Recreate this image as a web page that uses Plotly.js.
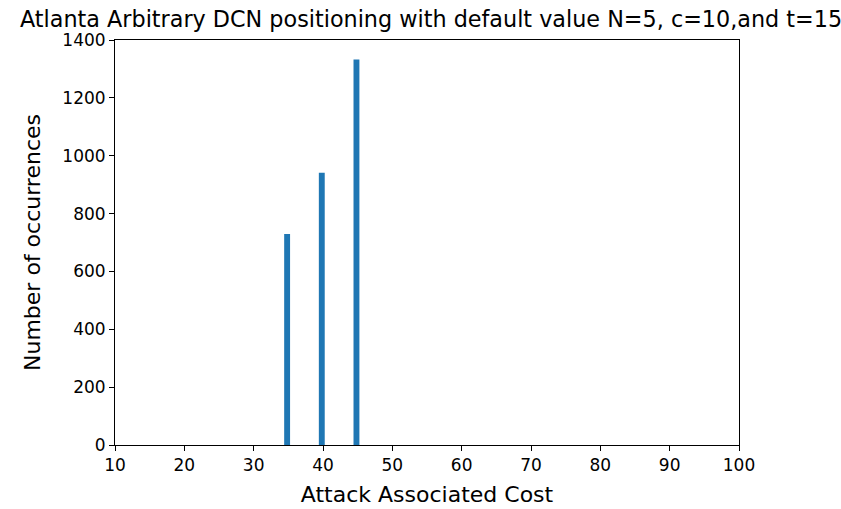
<!DOCTYPE html>
<html>
<head>
<meta charset="utf-8">
<script src="https://cdn.plot.ly/plotly-3.0.1.min.js"></script>
<style>html,body{margin:0;padding:0;background:#fff;}#chart{width:841px;height:509px;}</style>
</head>
<body>
<div id="chart"></div>
<script>
const costs = [35, 40, 45];
const occurrences = [729, 941, 1333];
const xTicks = [10, 20, 30, 40, 50, 60, 70, 80, 90, 100];
const yTicks = [0, 200, 400, 600, 800, 1000, 1200, 1400];

const trace = {
  type: 'bar',
  x: costs,
  y: occurrences,
  width: 0.85,
  offset: -0.6,
  marker: {color: '#1f77b4', line: {width: 0}},
  hoverinfo: 'x+y'
};

const axisCommon = {
  showgrid: false,
  zeroline: false,
  showline: true,
  mirror: true,
  linecolor: '#000',
  linewidth: 1,
  ticks: 'outside',
  ticklen: 5,
  tickwidth: 1,
  tickcolor: '#000',
  tickfont: {family: 'DejaVu Sans', size: 17, color: '#000'}
};

const layout = {
  width: 841,
  height: 509,
  margin: {l: 115, r: 102, t: 40, b: 64},
  paper_bgcolor: '#fff',
  plot_bgcolor: '#fff',
  showlegend: false,
  title: {
    text: 'Atlanta Arbitrary DCN positioning with default value N=5, c=10,and t=15',
    font: {family: 'DejaVu Sans', size: 22.3, color: '#000'},
    xref: 'paper', x: 0.5065, xanchor: 'center', y: 0.962, yanchor: 'middle'
  },
  xaxis: Object.assign({}, axisCommon, {
    range: [10, 100],
    tickvals: xTicks,
    ticktext: xTicks.map(String),
    title: {text: 'Attack Associated Cost', font: {family: 'DejaVu Sans', size: 22, color: '#000'}, standoff: 12}
  }),
  yaxis: Object.assign({}, axisCommon, {
    range: [0, 1400],
    tickvals: yTicks,
    ticktext: yTicks.map(String),
    title: {text: 'Number of occurrences', font: {family: 'DejaVu Sans', size: 22, color: '#000'}, standoff: 15}
  })
};

Plotly.newPlot('chart', [trace], layout, {displayModeBar: false, staticPlot: true});
</script>
</body>
</html>
